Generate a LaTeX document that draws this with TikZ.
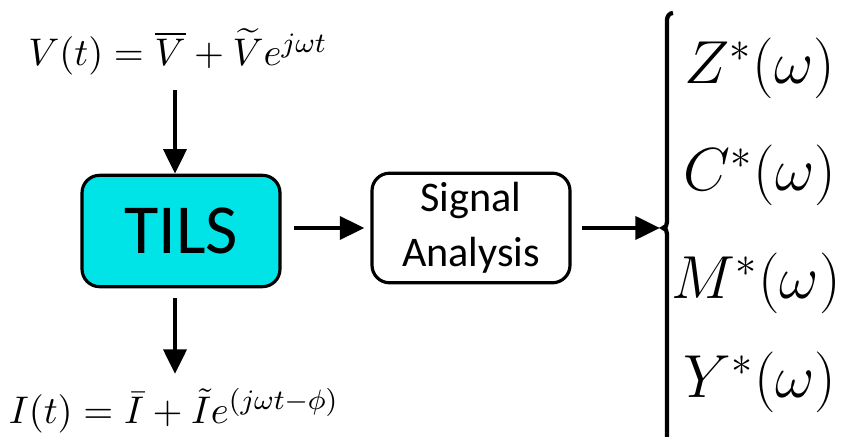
\documentclass[tikz,border=0pt]{standalone}
\usepackage{amsmath,amssymb}
\usepackage{fontspec}
\setsansfont{Carlito}
\usepackage{tikz}
\usetikzlibrary{arrows.meta, positioning, calc}
\definecolor{tilscyan}{RGB}{0,228,232}

\tikzset{
  flow/.style={line width=1.2pt, -{Triangle[length=7pt,width=6.5pt]}},
  blockbox/.style={draw, line width=0.9pt, rounded corners=5pt, align=center, inner sep=0pt},
  eqlab/.style={font=\fontsize{11}{14}\selectfont},
  resultlab/.style={font=\fontsize{18.5}{22}\selectfont},
}

\begin{document}
\begin{tikzpicture}[x=0.01cm, y=-0.01cm]
  \useasboundingbox (0,0) rectangle (848,437);
  % input and output signals
  \node[eqlab] (vin) at (178,52) {$V(t)=\overline{V}+\widetilde{V}e^{j\omega t}$};
  \node[eqlab] (iout) at (174,411) {$I(t)=\bar{I}+\tilde{I}e^{(j\omega t-\phi)}$};
  % blocks
  \node[blockbox, fill=tilscyan, font=\sffamily\fontsize{20}{24}\selectfont,
        minimum width=5.6cm/2.83, minimum height=3.15cm/2.83] (tils) at (181,231) {TILS};
  \node[blockbox, fill=white, font=\sffamily\fontsize{12}{15.5}\selectfont,
        minimum width=5.6cm/2.83, minimum height=3.1cm/2.83] (sigproc) at (471,228)
        {Signal\\Analysis};
  % arrows
  \coordinate (vtop) at (175,90);
  \coordinate (ibot) at (175,374);
  \draw[flow] (vtop) -- (tils.north -| vtop);
  \draw[flow] (tils.south -| ibot) ++(0,10) -- (ibot);
  \draw[flow] ($(tils.east)+(12,-3)$) -- ($(sigproc.west)+(-6,0)$);
  \coordinate (bmid) at (663,228);
  \draw[flow] ($(sigproc.east)+(10,0)$) -- ($(bmid)+(-3,0)$);
  % bracket
  \draw[line width=1.2pt] (673,13) to[out=180,in=90] (667,20) -- (667,222)
    to[out=-90,in=0] (bmid) to[out=0,in=90] (667,234) -- (667,440);
  % results
  \node[resultlab] (zstar) at (760,68) {$Z^*(\omega)$};
  \node[resultlab] (cstar) at (760,175) {$C^*(\omega)$};
  \node[resultlab] (mstar) at (756,283) {$M^*(\omega)$};
  \node[resultlab] (ystar) at (760,382) {$Y^*(\omega)$};
\end{tikzpicture}
\end{document}
